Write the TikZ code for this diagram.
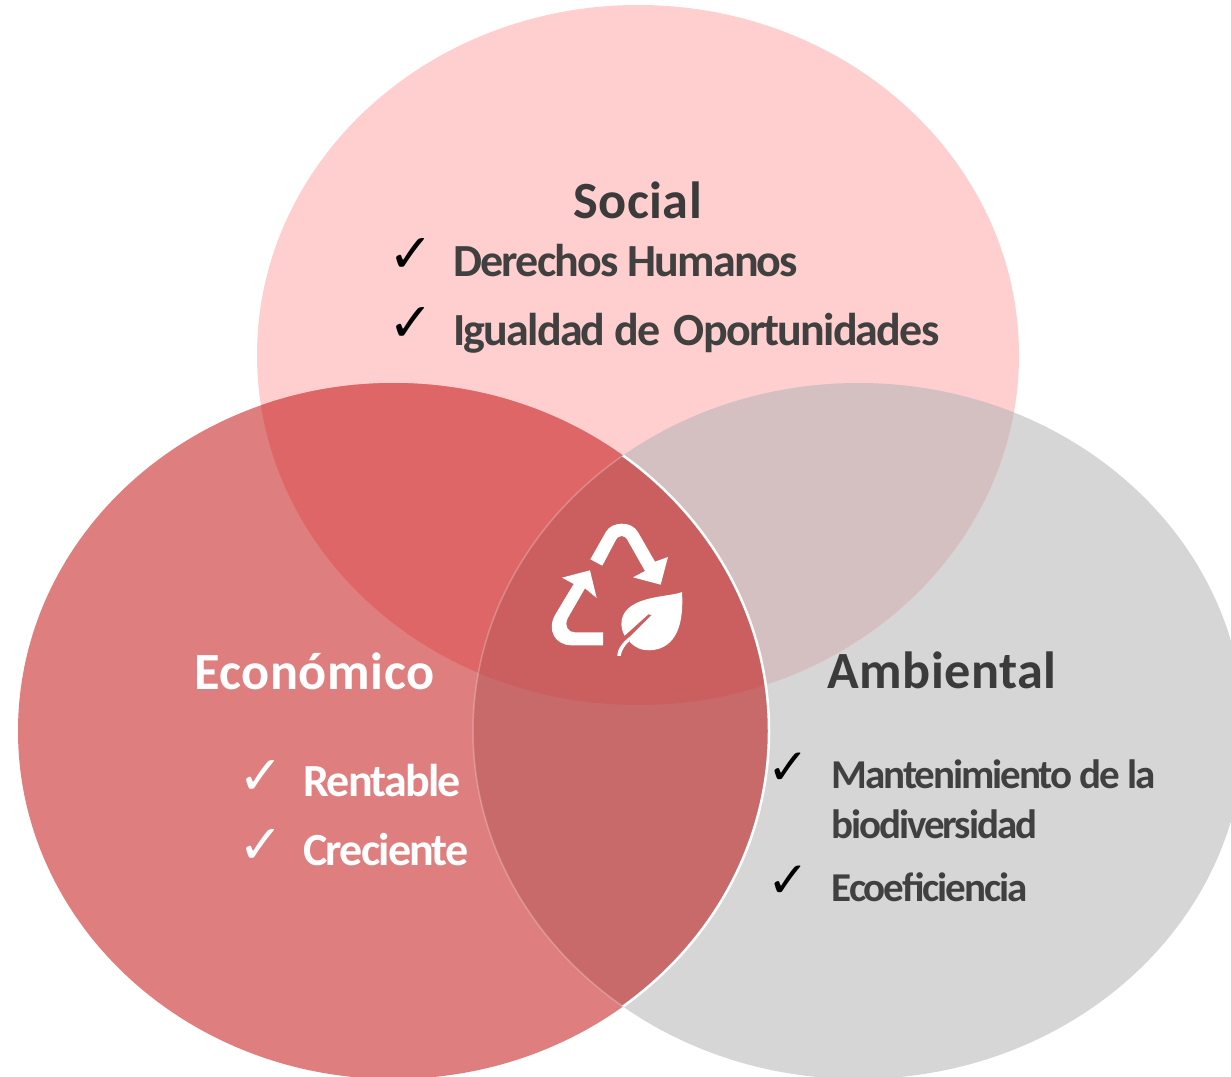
\documentclass[tikz,border=0pt]{standalone}
\usepackage{fontspec}
\setmainfont{Carlito}
\newfontfamily\titlefont[LetterSpace=1]{Carlito Bold}
\newfontfamily\itemfont[LetterSpace=-3.9]{Carlito Bold}
\newfontfamily\smallfont[LetterSpace=-5.1]{Carlito Bold}
\newfontfamily\checkfont{DejaVu Sans}
\definecolor{socialc}{HTML}{FFCFCF}
\definecolor{econc}{HTML}{DF7E7E}
\definecolor{ambc}{HTML}{D6D6D6}
\definecolor{seC}{HTML}{DF6666}
\definecolor{saC}{HTML}{D4C0C0}
\definecolor{eaC}{HTML}{C96A6A}
\definecolor{allC}{HTML}{CB5E5E}
\definecolor{inkc}{HTML}{404040}
\definecolor{titlec}{HTML}{3B3B3B}
\tikzset{
  titletext/.style={anchor=base west,inner sep=0pt,font=\titlefont\fontsize{52.3}{53}\selectfont},
  itemtext/.style={anchor=base west,inner sep=0pt,font=\itemfont\fontsize{46}{46}\selectfont,text=inkc},
  smalltext/.style={anchor=base west,inner sep=0pt,font=\smallfont\fontsize{41}{41}\selectfont,text=inkc},
  checktext/.style={anchor=base west,inner sep=0pt,font=\checkfont\fontsize{54}{54}\selectfont},
  checksmall/.style={anchor=base west,inner sep=0pt,font=\checkfont\fontsize{50}{50}\selectfont},
}
\def\socialE{(638,355) ellipse [x radius=381,y radius=350]}
\def\econE{(393.5,731) ellipse [x radius=375.5,y radius=348]}
\def\ambE{(858.5,731) ellipse [x radius=385.5,y radius=348]}
\begin{document}
\begin{tikzpicture}[x=1pt,y=-1pt]
\useasboundingbox (0,0) rectangle (1231,1076);
\clip (0,0) rectangle (1231,1076);
\fill[ambc] \ambE;
\fill[socialc] \socialE;
\fill[econc] \econE;
\begin{scope}\clip \socialE; \fill[saC] \ambE; \fill[seC] \econE; \end{scope}
\begin{scope}\clip \econE; \fill[eaC] \ambE; \end{scope}
\begin{scope}\clip \socialE; \clip \econE; \fill[allC] \ambE; \end{scope}
\begin{scope}\clip \econE; \draw[white,opacity=.25,line width=1.5pt] \ambE; \end{scope}
\begin{scope}\clip \ambE; \draw[white,line width=2.5pt] \econE; \end{scope}
% icon
\begin{scope}[shift={(530,500)},x=.3333pt,y=-.3333pt]
\fill[white] (181,178) -- (228,95) .. controls (245,65) and (305,60) .. (325,98) -- (375,185) -- (414,171) -- (392,254) -- (309,232) -- (345,213) -- (295,125) .. controls (285,102) and (265,102) .. (255,125) -- (217,197) -- cycle;
\fill[white] (96,233) -- (180,211) -- (200,294) -- (165,265) -- (113,355) .. controls (102,380) and (115,397) .. (135,397) -- (219,397) -- (219,436) -- (125,436) .. controls (75,436) and (50,390) .. (75,345) -- (131,252) -- cycle;
\fill[white] (456,276) .. controls (420,292) and (290,285) .. (275,360) .. controls (272,380) and (278,398) .. (284,407) -- (355,343) -- (365,345) -- (302,408) -- (298,424) .. controls (320,450) and (350,456) .. (385,447) .. controls (440,430) and (462,370) .. cycle;
\fill[white] (262,468) .. controls (262,445) and (280,425) .. (302,408) -- (298,424) .. controls (285,435) and (275,450) .. (272,468) -- cycle;
\end{scope}
% text
\node[titletext,text=titlec] (social) at (573,218) {Social};
\node[checktext] (c1) at (388,272) {✓};
\node[itemtext] (s1) at (453,276) {Derechos Humanos};
\node[checktext] (c2) at (388,341) {✓};
\node[itemtext] (s2) at (453,345) {Igualdad de\hspace{5pt}\ Oportunidades};
\node[titletext,text=white] (econ) at (194,689) {Económico};
\node[checktext,text=white] (c3) at (238,794) {✓};
\node[itemtext,text=white] (e1) at (303,796) {Rentable};
\node[checktext,text=white] (c4) at (238,863) {✓};
\node[itemtext,text=white] (e2) at (303,865) {Creciente};
\node[titletext,text=titlec] (amb) at (827,688) {Ambiental};
\node[checksmall] (c5) at (767,784) {✓};
\node[smalltext] (a1) at (831.5,788) {Mantenimiento de la};
\node[smalltext] (a2) at (831.5,838) {biodiversidad};
\node[checksmall] (c6) at (767,897) {✓};
\node[smalltext] (a3) at (831.5,901) {Ecoeficiencia};
\end{tikzpicture}
\end{document}
